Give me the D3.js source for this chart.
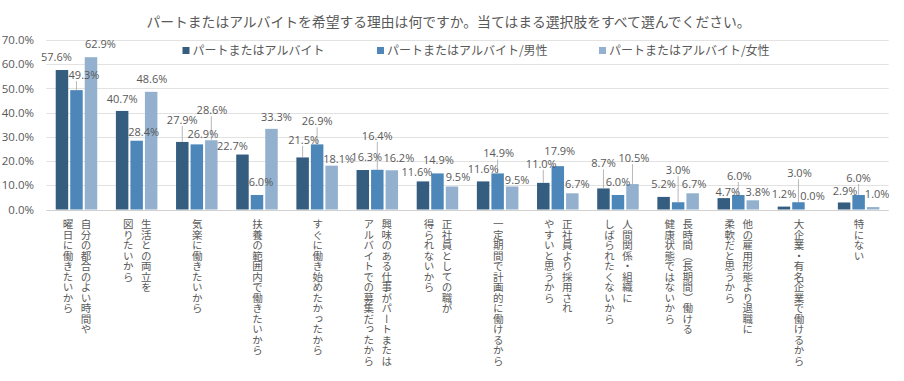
<!DOCTYPE html>
<html>
<head>
<meta charset="utf-8">
<script src="https://cdn.jsdelivr.net/npm/d3@7"></script>
<style>
  html, body { margin: 0; padding: 0; background: #fff; }
  #chart { position: relative; width: 904px; height: 381px; }
  svg { display: block; }
  .jp { font-family: "Noto Sans CJK JP", "Noto Sans", sans-serif; fill: #595959; }
  .num { font-family: "Segoe UI", "Open Sans", "Liberation Sans", sans-serif; fill: #595959; }
  .cat {
    position: absolute;
    writing-mode: vertical-rl;
    text-orientation: upright;
    font-family: "Noto Sans CJK JP", sans-serif;
    font-size: 10.5px;
    line-height: 18px;
    color: #595959;
    white-space: nowrap;
  }
</style>
</head>
<body>
<div id="chart"></div>
<script>
const title = 'パートまたはアルバイトを希望する理由は何ですか。当てはまる選択肢をすべて選んでください。';

const categories = [
  ['自分の都合のよい時間や', '曜日に働きたいから'],
  ['生活との両立を', '図りたいから'],
  ['気楽に働きたいから'],
  ['扶養の範囲内で働きたいから'],
  ['すぐに働き始めたかったから'],
  ['興味のある仕事がパートまたは', 'アルバイトでの募集だったから'],
  ['正社員としての職が', '得られないから'],
  ['一定期間で計画的に働けるから'],
  ['正社員より採用され', 'やすいと思うから'],
  ['人間関係・組織に', 'しばられたくないから'],
  ['長時間（長期間）働ける', '健康状態ではないから'],
  ['他の雇用形態より退職に', '柔軟だと思うから'],
  ['大企業・有名企業で働けるから'],
  ['特にない']
];

const seriesNames = ['パートまたはアルバイト', 'パートまたはアルバイト/男性', 'パートまたはアルバイト/女性'];
const seriesColors = ['#355d80', '#4d87b9', '#93b1cf'];

const totalValues = [57.6, 40.7, 27.9, 22.7, 21.5, 16.3, 11.6, 11.6, 11.0, 8.7, 5.2, 4.7, 1.2, 2.9];
const maleValues = [49.3, 28.4, 26.9, 6.0, 26.9, 16.4, 14.9, 14.9, 17.9, 6.0, 3.0, 6.0, 3.0, 6.0];
const femaleValues = [62.9, 48.6, 28.6, 33.3, 18.1, 16.2, 9.5, 9.5, 6.7, 10.5, 6.7, 3.8, 0.0, 1.0];

const yTicks = [0, 10, 20, 30, 40, 50, 60, 70];

// label nudges [dx, dy, leader] per category, per series (placed like the original to avoid overlaps)
const labelNudges = [
  [[-5.5, -4, 0], [7.5, -6, 1], [9.5, -4, 0]],
  [[0, -3, 0], [7, 0, 0], [0.7, -4, 0]],
  [[0, -13, 1], [6, -1, 0], [0.7, -21, 1]],
  [[-10, 1, 0], [4, -4, 0], [5, -3, 0]],
  [[1, -8.5, 1], [0, -14, 1], [7, 2, 0]],
  [[4, -4, 0], [0, -25, 1], [7, -3, 0]],
  [[-6, 0, 0], [1, -4, 0], [6, 0, 0]],
  [[0, -3.5, 0], [1, -11, 1], [5, 3, 0]],
  [[-2, -10, 1], [2, -6, 0], [5, 0, 0]],
  [[0, -16, 1], [0, -4, 0], [1.5, -17, 1]],
  [[0, -4, 0], [0, -23, 1], [1.5, -0.5, 0]],
  [[4, 3, 0], [1, -10, 1], [5, 1, 0]],
  [[0, -3.5, 0], [1, -20, 1], [-0.5, -4, 0]],
  [[1, -2.5, 0], [0, -8, 1], [4, -4, 0]]
];

const width = 904;
const height = 381;
const margin = { left: 46.4, right: 15.3, top: 40, bottom: 171.5 };

const chart = d3.select('#chart');
const svg = chart.append('svg')
  .attr('width', width)
  .attr('height', height);

const series = [totalValues, maleValues, femaleValues];
const idx = d3.range(categories.length);

const x0 = d3.scaleBand()
  .domain(idx)
  .range([margin.left, width - margin.right])
  .paddingInner(0.31)
  .paddingOuter(0.155);

const x1 = d3.scaleBand()
  .domain([0, 1, 2])
  .range([0, x0.bandwidth()])
  .paddingInner(0.14);

const y = d3.scaleLinear()
  .domain([0, 70])
  .range([height - margin.bottom, margin.top]);

// title
svg.append('text')
  .attr('class', 'jp')
  .attr('x', 448.5)
  .attr('y', 22)
  .attr('dy', '0.35em')
  .attr('text-anchor', 'middle')
  .style('font-size', '13.8px')
  .text(title);

// gridlines
svg.append('g')
  .selectAll('line')
  .data(yTicks)
  .join('line')
  .attr('x1', margin.left)
  .attr('x2', width - margin.right)
  .attr('y1', d => Math.round(y(d)) + 0.5)
  .attr('y2', d => Math.round(y(d)) + 0.5)
  .attr('stroke', d => d === 0 ? '#d0d0d0' : '#e2e2e2')
  .attr('stroke-width', 1);

// y axis labels
const yAxis = svg.append('g')
  .attr('transform', `translate(34,0)`)
  .call(d3.axisLeft(y).tickValues(yTicks).tickSize(0).tickPadding(0).tickFormat(d => d.toFixed(1) + '%'));
yAxis.select('.domain').remove();
yAxis.selectAll('text')
  .attr('class', 'num')
  .attr('fill', '#595959')
  .style('font-size', '11.5px');

// legend
const legendX = [182.5, 377, 599];
const legend = svg.append('g')
  .selectAll('g')
  .data(seriesNames)
  .join('g')
  .attr('transform', (d, i) => `translate(${legendX[i]},50.5)`);
legend.append('rect')
  .attr('x', 0)
  .attr('y', -3.5)
  .attr('width', 7)
  .attr('height', 7)
  .attr('fill', (d, i) => seriesColors[i]);
legend.append('text')
  .attr('class', 'jp')
  .attr('x', 10)
  .attr('y', 0)
  .attr('dy', '0.35em')
  .style('font-size', '12px')
  .text(d => d);

// bars
const groups = svg.append('g')
  .selectAll('g')
  .data(idx)
  .join('g')
  .attr('transform', i => `translate(${x0(i)},0)`);

groups.selectAll('rect')
  .data(i => series.map((values, s) => ({ s, v: values[i] })))
  .join('rect')
  .attr('x', d => x1(d.s))
  .attr('y', d => y(d.v))
  .attr('width', x1.bandwidth())
  .attr('height', d => y(0) - y(d.v))
  .attr('fill', d => seriesColors[d.s]);

// data labels
const labels = [];
idx.forEach(i => {
  series.forEach((values, s) => {
    const v = values[i];
    const nudge = labelNudges[i][s];
    const bx = x0(i) + x1(s) + x1.bandwidth() / 2;
    const by = y(v);
    labels.push({ v, bx, by, lx: bx + nudge[0], ly: by - 9 + nudge[1], leader: nudge[2] });
  });
});

svg.append('g')
  .selectAll('line')
  .data(labels.filter(d => d.leader))
  .join('line')
  .attr('x1', d => d.bx)
  .attr('y1', d => d.by)
  .attr('x2', d => Math.max(d.lx - 15, Math.min(d.lx + 15, d.bx)))
  .attr('y2', d => d.ly + 6)
  .attr('stroke', '#a6a6a6')
  .attr('stroke-width', 0.8);

svg.append('g')
  .selectAll('text')
  .data(labels)
  .join('text')
  .attr('class', 'num')
  .attr('x', d => d.lx)
  .attr('y', d => d.ly)
  .attr('dy', '0.35em')
  .attr('text-anchor', 'middle')
  .style('font-size', '11px')
  .text(d => d.v.toFixed(1) + '%');

// vertical category labels (HTML, vertical writing mode)
const colGap = 18;
chart.selectAll('div.cat')
  .data(idx)
  .join('div')
  .attr('class', 'cat')
  .style('left', i => (x0(i) + x0.bandwidth() / 2 - categories[i].length * colGap / 2) + 'px')
  .style('top', '219px')
  .html(i => categories[i].join('<br>'));
</script>
</body>
</html>
